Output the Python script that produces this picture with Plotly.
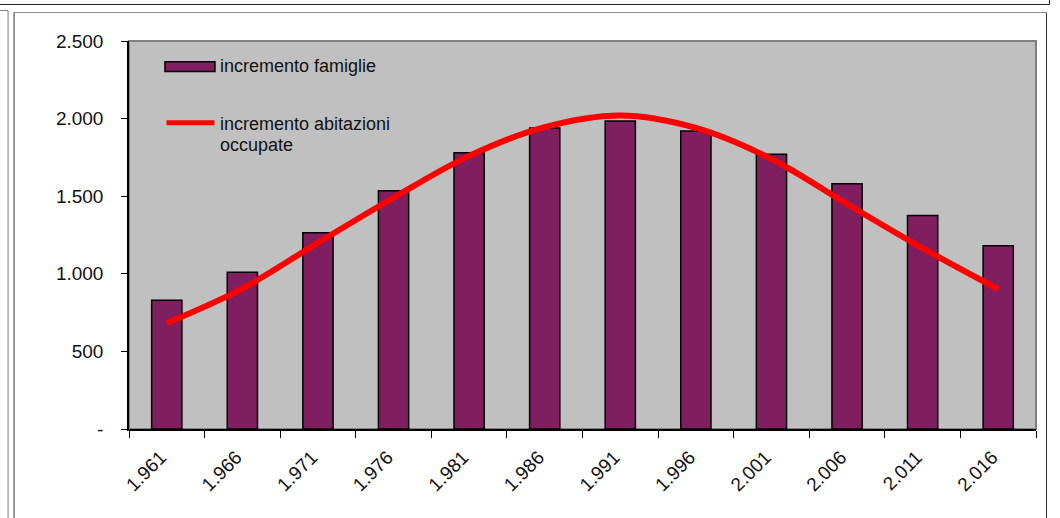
import plotly.graph_objects as go

# Census years (Italian thousands separator) and the two series
anni = ["1.961", "1.966", "1.971", "1.976", "1.981", "1.986",
        "1.991", "1.996", "2.001", "2.006", "2.011", "2.016"]
incremento_famiglie = [830, 1010, 1265, 1535, 1780, 1940,
                       1985, 1920, 1770, 1580, 1375, 1180]
incremento_abitazioni = [683, 905, 1200, 1490, 1760, 1945,
                         2020, 1940, 1740, 1450, 1165, 901]
y_ticks = [0, 500, 1000, 1500, 2000, 2500]


def fmt_it(v):
    return "-" if v == 0 else f"{v:,}".replace(",", ".")


y_ticktext = [fmt_it(v) for v in y_ticks]

W, H = 1060, 518
L, R, T, B = 128.5, 1036.0, 41.0, 429.3   # plot area in page pixels


def px(x):
    return (x - L) / (R - L)


def py(y):
    return (B - y) / (B - T)


FONT = "Liberation Sans, Arial, sans-serif"
BAR_COLOR = "#7F1F5F"

fig = go.Figure()
fig.add_trace(go.Bar(
    x=anni, y=incremento_famiglie, name="incremento famiglie",
    width=0.4, marker=dict(color=BAR_COLOR, line=dict(color="#000000", width=1.5)),
    showlegend=False,
))
fig.add_trace(go.Scatter(
    x=anni, y=incremento_abitazioni, name="incremento abitazioni occupate",
    mode="lines", line=dict(color="#FF0000", width=6, shape="spline", smoothing=1.0),
    showlegend=False,
))

shapes = [
    # plot-area outline (left/bottom covered by the black axis lines)
    dict(type="rect", xref="paper", yref="paper", x0=0, x1=1, y0=0, y1=1,
         line=dict(color="#808080", width=2), layer="below"),
    # surrounding frames
    dict(type="line", xref="paper", yref="paper", x0=px(-2), x1=px(1049.5),
         y0=py(4.5), y1=py(4.5), line=dict(color="#222222", width=1)),
    dict(type="line", xref="paper", yref="paper", x0=px(1049.5), x1=px(1049.5),
         y0=py(-2), y1=py(4.5), line=dict(color="#222222", width=1)),
    dict(type="line", xref="paper", yref="paper", x0=px(-2), x1=px(7.5),
         y0=py(10.5), y1=py(10.5), line=dict(color="#808080", width=1)),
    dict(type="line", xref="paper", yref="paper", x0=px(7.5), x1=px(7.5),
         y0=py(10.5), y1=py(520), line=dict(color="#808080", width=1)),
    dict(type="line", xref="paper", yref="paper", x0=px(13.5), x1=px(1046.5),
         y0=py(12.5), y1=py(12.5), line=dict(color="#909090", width=1)),
    dict(type="line", xref="paper", yref="paper", x0=px(13.5), x1=px(13.5),
         y0=py(12.5), y1=py(520), line=dict(color="#333333", width=1)),
    dict(type="line", xref="paper", yref="paper", x0=px(1046.5), x1=px(1046.5),
         y0=py(12.5), y1=py(520), line=dict(color="#333333", width=1)),
    # legend keys
    dict(type="rect", xref="paper", yref="paper", x0=px(164.5), x1=px(214.5),
         y0=py(71.5), y1=py(61.8), fillcolor=BAR_COLOR,
         line=dict(color="#000000", width=1.5)),
    dict(type="line", xref="paper", yref="paper", x0=px(166), x1=px(214),
         y0=py(122.7), y1=py(122.7), line=dict(color="#FF0000", width=5)),
]

legend_font = dict(family=FONT, size=18, color="#111111")
annotations = [
    dict(text="incremento famiglie", xref="paper", yref="paper",
         x=px(218), y=py(66.5), xanchor="left", yanchor="middle",
         showarrow=False, font=legend_font),
    dict(text="incremento abitazioni", xref="paper", yref="paper",
         x=px(218), y=py(124), xanchor="left", yanchor="middle",
         showarrow=False, font=legend_font),
    dict(text="occupate", xref="paper", yref="paper",
         x=px(218), y=py(145), xanchor="left", yanchor="middle",
         showarrow=False, font=legend_font),
]

tick_font = dict(family=FONT, size=19, color="#111111")

fig.update_layout(
    width=W, height=H,
    margin=dict(l=L, r=W - R, t=T, b=H - B, pad=0),
    paper_bgcolor="#FFFFFF", plot_bgcolor="#C0C0C0",
    font=dict(family=FONT, size=18, color="#111111"),
    shapes=shapes, annotations=annotations,
    showlegend=False, bargap=0.6,
)
fig.update_xaxes(
    type="category", tickangle=-45, tickson="boundaries",
    ticks="outside", ticklen=7, tickwidth=1, tickcolor="#000000",
    showline=True, linecolor="#000000", linewidth=1.5,
    showgrid=False, zeroline=False,
    ticklabelstandoff=8, ticklabelshift=-6,
    tickfont=tick_font,
)
fig.update_yaxes(
    range=[0, 2500], tickvals=y_ticks, ticktext=y_ticktext,
    ticks="outside", ticklen=6, tickwidth=1, tickcolor="#000000",
    showline=True, linecolor="#000000", linewidth=1.5,
    showgrid=False, zeroline=False, ticklabelstandoff=14,
    tickfont=tick_font,
)

fig.write_html("out.html")
